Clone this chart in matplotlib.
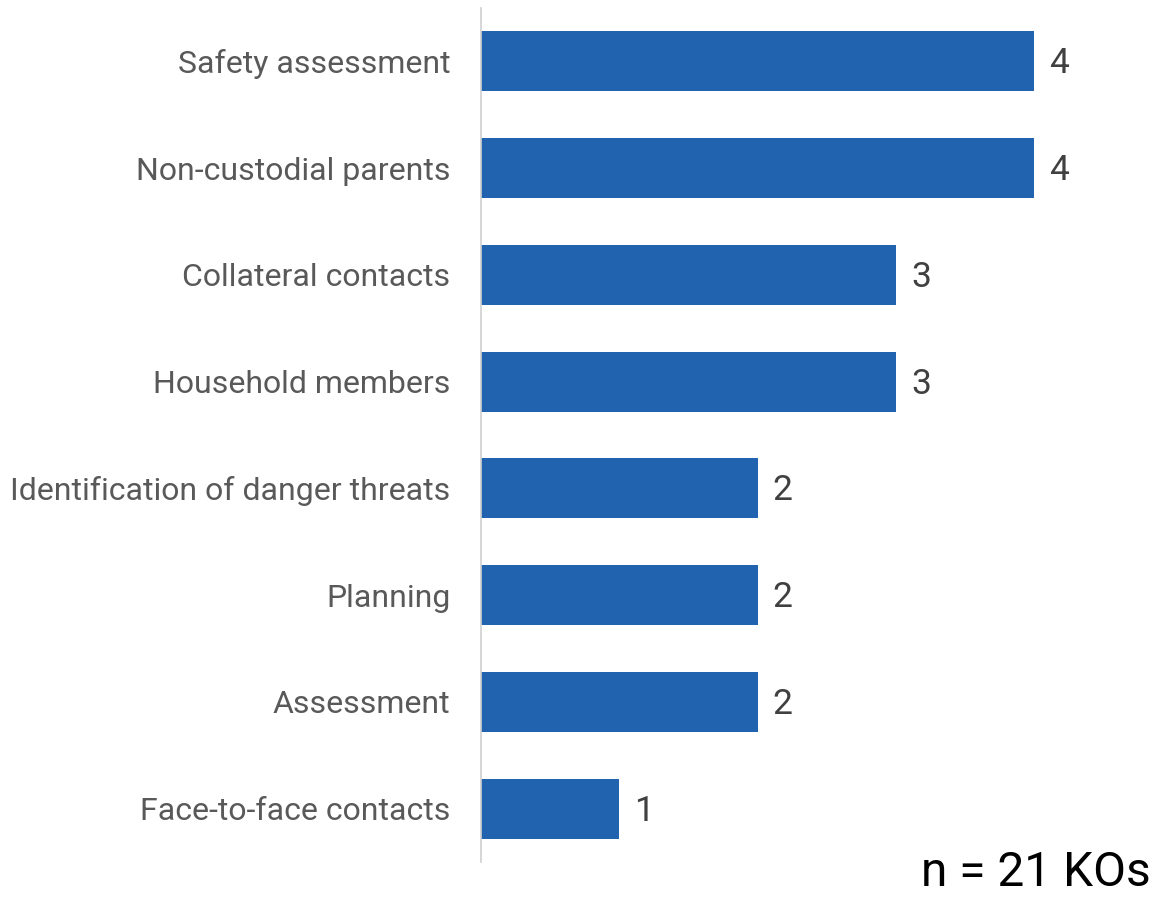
import matplotlib.pyplot as plt

categories = ['Safety assessment', 'Non-custodial parents', 'Collateral contacts',
              'Household members', 'Identification of danger threats', 'Planning',
              'Assessment', 'Face-to-face contacts']
counts = [4, 4, 3, 3, 2, 2, 2, 1]
note = 'n = 21 KOs'

plt.rcParams['font.family'] = ['Roboto', 'DejaVu Sans']

fig = plt.figure(figsize=(11.55, 9.01), dpi=100)
ax = fig.add_axes([481 / 1155, 39 / 901, 1 - 481 / 1155, 854 / 901])

ypos = list(range(len(categories)))
ax.barh(ypos, counts, height=0.56, color='#2163ae')
ax.set_ylim(len(categories) - 0.5, -0.5)
ax.set_xlim(0, 4.875)

for y, v in zip(ypos, counts):
    ax.text(v + 0.11, y - 0.01, str(v), va='center_baseline', ha='left',
            fontsize=25.5, color='#404040')

ax.set_yticks(ypos)
ax.set_yticklabels(categories, fontsize=23, color='#595959')
ax.tick_params(axis='y', length=0, pad=22)
ax.set_xticks([])
for s in ['top', 'right', 'bottom']:
    ax.spines[s].set_visible(False)
ax.spines['left'].set_color('#d0d0d0')
ax.spines['left'].set_linewidth(1.2)

fig.text(0.996, 0.005, note, ha='right', va='bottom', fontsize=34.5, color='black')

fig.savefig('out.png', dpi=100)
